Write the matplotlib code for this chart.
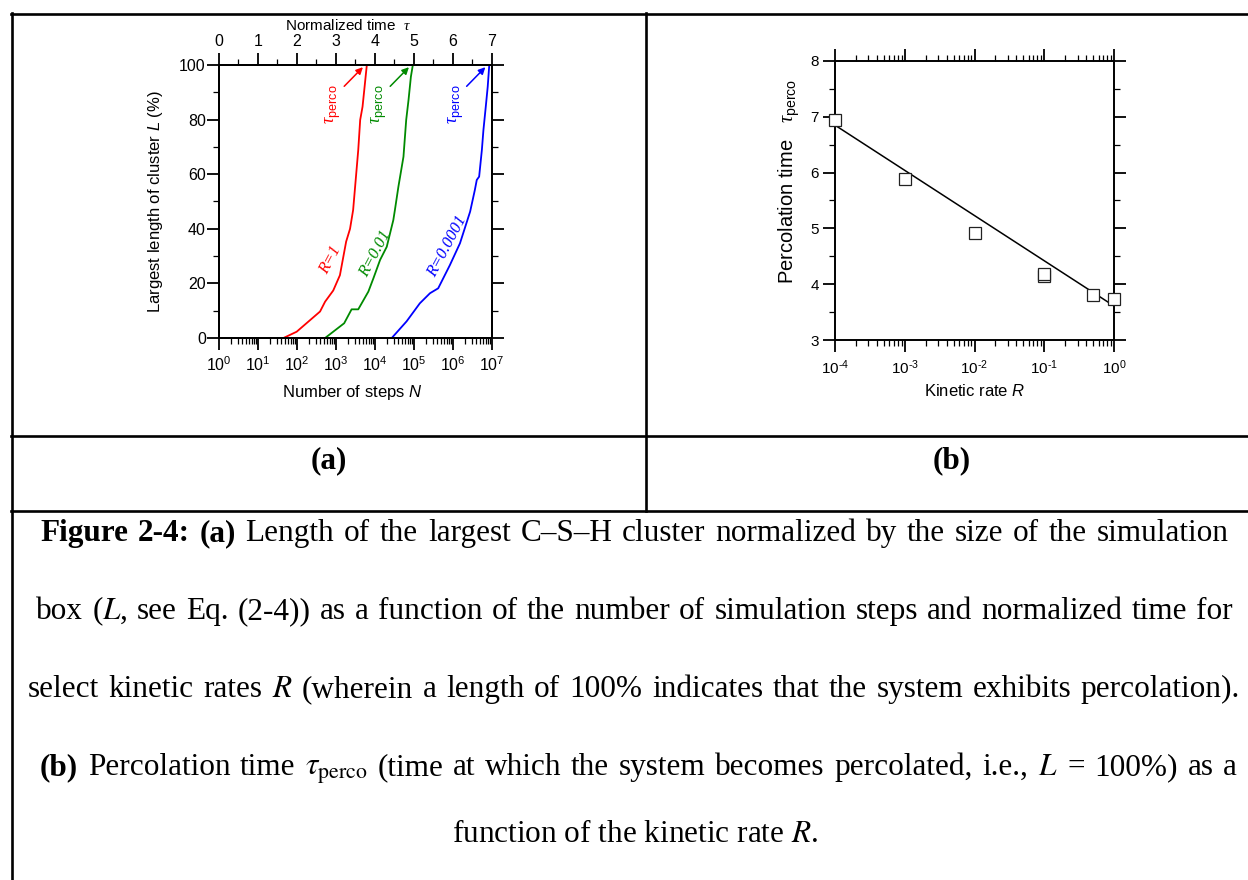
import matplotlib
matplotlib.use('Agg')
import matplotlib.pyplot as plt
import numpy as np
from matplotlib.lines import Line2D
from matplotlib.ticker import MultipleLocator, LogLocator, NullFormatter, FuncFormatter

plt.rcParams['font.family'] = 'Liberation Sans'
plt.rcParams['mathtext.fontset'] = 'custom'
plt.rcParams['mathtext.rm'] = 'Liberation Sans'
plt.rcParams['mathtext.it'] = 'Liberation Sans:italic'
plt.rcParams['mathtext.bf'] = 'Liberation Sans:bold'
plt.rcParams['mathtext.sf'] = 'Liberation Sans'
plt.rcParams['mathtext.cal'] = 'Liberation Serif:italic'  # used for the serif tau

# (a) largest cluster length L (%) vs number of steps N
steps_r1 = [10, 45, 98, 390, 525, 850, 1260, 1820, 2290, 2750, 3720, 4170, 4790, 5250, 6170]
len_r1 = [0, 0, 2.3, 9.7, 13.3, 17.4, 23, 35.3, 40, 46.9, 68.9, 79.9, 84.7, 90.2, 100]

steps_r001 = [525, 1620, 2510, 3720, 6760, 9120, 13500, 20000, 29500, 32400, 39800,
              53700, 63100, 72400, 83200, 93300]
len_r001 = [0, 5.4, 10.5, 10.5, 17, 21.9, 28.6, 33.4, 43.2, 46.9, 55.4, 66.4, 79.9, 87.2, 95.7, 100]

steps_r00001 = [26900, 64600, 141000, 257000, 417000, 832000, 1.51e6, 2.75e6, 3.63e6,
                4.07e6, 4.68e6, 5.5e6, 6.03e6, 6.92e6, 7.76e6, 8.51e6]
len_r00001 = [0, 6.1, 12.7, 16.4, 18.2, 26.7, 34.7, 46.3, 54.2, 57.9, 59.1, 68.9, 76.2, 84.7, 92, 100]

curve_labels = ['R=1', 'R=0.01', 'R=0.0001']
curve_colors = ['#ff0000', '#008a00', '#0000ff']

# (b) percolation time vs kinetic rate
rate_R = [1e-4, 1e-3, 1e-2, 1e-1, 1e-1, 0.5, 1.0]
tau_perco = [6.95, 5.88, 4.91, 4.15, 4.18, 3.81, 3.73]
fit_R = [1e-4, 1.0]
fit_tau = [6.85, 3.61]

caption_lines = [
    ("Figure 2-4: (a) Length of the largest C\u2013S\u2013H cluster normalized by the size of the simulation", 3),
    ("box ($L$, see Eq. (2-4)) as a function of the number of simulation steps and normalized time for", 0),
    ("select kinetic rates $R$ (wherein a length of 100% indicates that the system exhibits percolation).", 0),
    ("(b) Percolation time $\\tau_{\\mathrm{perco}}$ (time at which the system becomes percolated, i.e., $L$ = 100%) as a", 1),
]
caption_last = "function of the kinetic rate $R$."

TAU = '$\\mathcal{\\tau}_{\\mathrm{perco}}$'

W, H = 1248, 880
fig = plt.figure(figsize=(W / 100, H / 100), dpi=100)


def box(l, t, r, b):
    return [l / W, 1 - b / H, (r - l) / W, (b - t) / H]


def hline(y, x0, x1):
    fig.add_artist(Line2D([x0 / W, x1 / W], [1 - y / H] * 2, color='k', lw=1.9))


def vline(x, y0, y1):
    fig.add_artist(Line2D([x / W] * 2, [1 - y0 / H, 1 - y1 / H], color='k', lw=1.9))


def pow10(v, pos):
    e = int(round(np.log10(v)))
    return '$\\mathdefault{10^{%s}}$' % str(e).replace('-', '\u2010')


def style_ticks(a, labelsize):
    a.tick_params(which='both', direction='out', labelsize=labelsize)
    a.tick_params(which='major', length=8.5, width=1.3)
    a.tick_params(which='minor', length=4.5, width=0.9)
    for s in a.spines.values():
        s.set_linewidth(1.4)


# table frame
hline(14, 11, W)
hline(436, 11, W)
hline(511, 11, W)
vline(12, 13, H)
vline(646, 13, 511)

# ---------- panel (a)
ax = fig.add_axes(box(219, 65, 492, 338))
all_steps = [steps_r1, steps_r001, steps_r00001]
all_len = [len_r1, len_r001, len_r00001]
for N, L, c in zip(all_steps, all_len, curve_colors):
    ax.plot(N, L, color=c, lw=1.3)
ax.set_xscale('log')
ax.set_xlim(1, 1e7)
ax.set_ylim(0, 100)
ax.yaxis.set_major_locator(MultipleLocator(20))
ax.yaxis.set_minor_locator(MultipleLocator(10))
ax.xaxis.set_major_locator(LogLocator(base=10, numticks=20))
ax.xaxis.set_minor_locator(LogLocator(base=10, subs=np.arange(2, 10), numticks=20))
ax.xaxis.set_major_formatter(FuncFormatter(pow10))
ax.xaxis.set_minor_formatter(NullFormatter())
style_ticks(ax, 11.5)
ax.tick_params(which='both', right=True, top=False)
ax.tick_params(axis='y', pad=1)
ax.tick_params(axis='x', pad=4)
ax.set_xlabel('Number of steps $N$', fontsize=12)
ax.set_ylabel('Largest length of cluster $L$ (%)', fontsize=12)
ax.xaxis.set_label_coords(0.49, -0.165)
ax.yaxis.set_label_coords(-0.198, 0.5)

tw = ax.twiny()
tw.set_xlim(0, 7)
tw.xaxis.set_major_locator(MultipleLocator(1))
tw.xaxis.set_minor_locator(MultipleLocator(0.5))
style_ticks(tw, 11.5)
tw.tick_params(axis='x', pad=3)
tw.set_xlabel('Normalized time  $\\mathcal{\\tau}$', fontsize=11)
tw.xaxis.set_label_coords(0.475, 1.128)

for N, c, lab, rot_x, lab_y in zip(all_steps, curve_colors, curve_labels,
                                   [-0.92, -0.97, -1.07], [28.6, 30.8, 33.7]):
    end = N[-1]
    ax.annotate('', xy=(end * 10 ** -0.1, 99.2), xytext=(end * 10 ** -0.58, 92.2),
                arrowprops=dict(arrowstyle='-|>', color=c, lw=1.1, mutation_scale=10,
                                shrinkA=0, shrinkB=0))
    ax.text(end * 10 ** -0.85, 85.5, TAU, color=c, rotation=90,
            ha='center', va='center', fontsize=13)
    ax.text(end * 10 ** rot_x, lab_y, lab, color=c, rotation=62, ha='center', va='center',
            family='Liberation Serif', style='italic', fontsize=12)

# ---------- panel (b)
axb = fig.add_axes(box(835, 61, 1114, 340))
axb.plot(fit_R, fit_tau, color='k', lw=1.1)
axb.plot(rate_R, tau_perco, ls='none', marker='s', ms=8.3, mfc='white', mec='#222222',
         mew=0.9, clip_on=False, zorder=5)
axb.set_xscale('log')
axb.set_xlim(1e-4, 1)
axb.set_ylim(3, 8)
axb.yaxis.set_major_locator(MultipleLocator(1))
axb.yaxis.set_minor_locator(MultipleLocator(0.5))
axb.xaxis.set_major_locator(LogLocator(base=10, numticks=20))
axb.xaxis.set_minor_locator(LogLocator(base=10, subs=np.arange(2, 10), numticks=20))
axb.xaxis.set_major_formatter(FuncFormatter(pow10))
axb.xaxis.set_minor_formatter(NullFormatter())
style_ticks(axb, 11)
axb.tick_params(which='both', top=True, right=True)
axb.tick_params(axis='y', pad=3)
axb.tick_params(axis='x', pad=5)
axb.set_xlabel('Kinetic rate $R$', fontsize=12)
axb.set_ylabel('Percolation time   ' + TAU, fontsize=14.5)
axb.xaxis.set_label_coords(0.5, -0.154)
axb.yaxis.set_label_coords(-0.118, 0.57)

# ---------- panel letters and caption
fig.text(329 / W, 1 - 461 / H, '(a)', ha='center', va='center', family='Liberation Serif',
         fontweight='bold', fontsize=22.5)
fig.text(952 / W, 1 - 461 / H, '(b)', ha='center', va='center', family='Liberation Serif',
         fontweight='bold', fontsize=22.5)

cap_kw = dict(family='Liberation Serif', fontsize=22.5, math_fontfamily='stix', va='baseline')
cap_base = [541, 619, 697, 775]
cap_edges = [(40, 1229), (36, 1233), (28, 1240), (40, 1237)]
renderer = fig.canvas.get_renderer()
for (line, nbold), yb, (xl, xr) in zip(caption_lines, cap_base, cap_edges):
    words = line.split(' ')
    texts = [fig.text(0, 1 - yb / H, w, fontweight='bold' if i < nbold else 'normal', **cap_kw)
             for i, w in enumerate(words)]
    widths = [t.get_window_extent(renderer).width for t in texts]
    gap = (xr - xl - sum(widths)) / (len(words) - 1)
    x = xl
    for t, w in zip(texts, widths):
        t.set_x(x / W)
        x += w + gap
fig.text(635 / W, 1 - 842 / H, caption_last, ha='center', **cap_kw)

fig.savefig('out.png', dpi=100)
